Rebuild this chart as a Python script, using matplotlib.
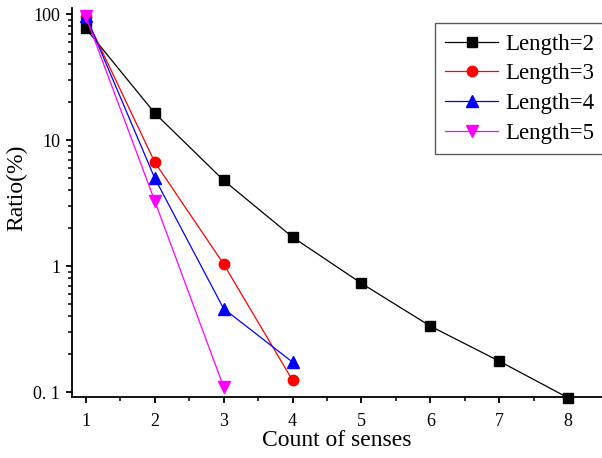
import matplotlib.pyplot as plt
from matplotlib.ticker import LogLocator, FixedLocator, NullFormatter
import numpy as np

plt.rcParams['font.family'] = ['Liberation Serif', 'DejaVu Serif']

x2 = [1, 2, 3, 4, 5, 6, 7, 8]
len2 = [77, 16.4, 4.8, 1.7, 0.73, 0.334, 0.176, 0.09]
x3 = [1, 2, 3, 4]
len3 = [95, 6.7, 1.04, 0.124]
x4 = [1, 2, 3, 4]
len4 = [97, 5.0, 0.46, 0.173]
x5 = [1, 2, 3]
len5 = [96, 3.3, 0.11]

fig = plt.figure(figsize=(6.02, 4.58), dpi=100)
ax = fig.add_axes([0.1196, 0.1332, 0.8804, 0.849])

ax.plot(x2, len2, 'k-', marker='s', ms=7, lw=0.9, label='Length=2', clip_on=False)
ax.plot(x3, len3, '-', color='red', marker='o', ms=7.5, lw=0.9, label='Length=3', clip_on=False)
ax.plot(x4, len4, '-', color='blue', marker='^', ms=8, lw=0.9, label='Length=4', clip_on=False)
ax.plot(x5, len5, '-', color='magenta', marker='v', ms=8, lw=0.9, label='Length=5', clip_on=False)

ax.set_yscale('log')
ax.set_xlim(0.8, 8.49)
ax.set_ylim(0.0915, 111.6)
ax.set_yticks([0.1, 1, 10, 100])
ax.set_yticklabels(['0. 1', '1', '10', '100'])
ax.yaxis.set_minor_locator(LogLocator(base=10, subs=np.arange(2, 10)))
ax.yaxis.set_minor_formatter(NullFormatter())
ax.set_xticks([1, 2, 3, 4, 5, 6, 7, 8])
ax.xaxis.set_minor_locator(FixedLocator(np.arange(1.5, 8.6, 1)))

ax.spines['top'].set_visible(False)
ax.spines['right'].set_visible(False)
ax.spines['left'].set_linewidth(1.3)
ax.spines['bottom'].set_linewidth(1.3)
ax.tick_params(which='major', direction='out', length=4.5, width=1.3, labelsize=13, colors='black')
ax.tick_params(which='minor', direction='out', length=2.8, width=1.1)
ax.tick_params(axis='y', pad=4)
ax.tick_params(axis='x', pad=7)

ax.set_xlabel('Count of senses', fontsize=17, labelpad=0)
ax.set_ylabel('Ratio(%)', fontsize=17)
ax.yaxis.set_label_coords(-0.085, 0.537)

leg = ax.legend(loc='upper left', bbox_to_anchor=(0.685, 0.961), fontsize=16.5, frameon=True,
                fancybox=False, edgecolor='#333333', handlelength=2.3, handletextpad=0.3,
                labelspacing=0.38, borderpad=0.45, borderaxespad=0)
leg.get_frame().set_linewidth(1.0)

fig.savefig('out.png', dpi=100)
